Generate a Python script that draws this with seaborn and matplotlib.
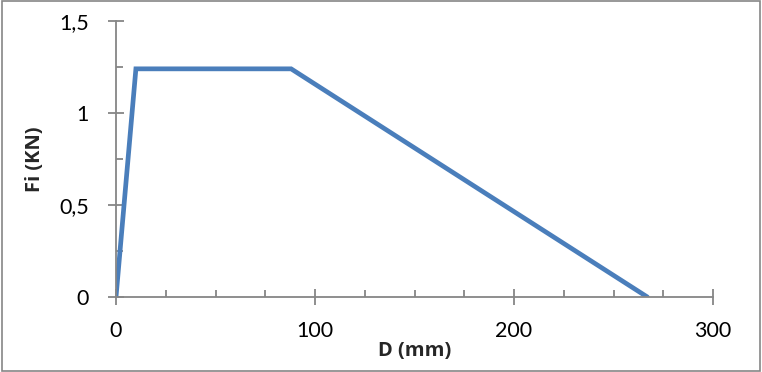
import matplotlib
matplotlib.use('Agg')
import matplotlib.pyplot as plt
import seaborn as sns
import pandas as pd
from matplotlib.ticker import MultipleLocator, FuncFormatter
from matplotlib.patches import Rectangle

# dados
d_mm = [0, 10, 88, 267]
fi_kn = [0, 1.24, 1.24, 0]

df = pd.DataFrame({'D': d_mm, 'Fi': fi_kn})

sns.set_theme(style='white')
plt.rcParams['font.family'] = ['Lato', 'DejaVu Sans']

fig = plt.figure(figsize=(7.62, 3.72), dpi=100)
ax = fig.add_axes([116 / 762, 1 - 297 / 372, 597 / 762, 276 / 372])

sns.lineplot(data=df, x='D', y='Fi', ax=ax, color='#4A7EBB', linewidth=3.4,
             sort=False, solid_joinstyle='miter')

ax.set_xlim(0, 300)
ax.set_ylim(0, 1.5)
ax.xaxis.set_major_locator(MultipleLocator(100))
ax.xaxis.set_minor_locator(MultipleLocator(25))
ax.yaxis.set_major_locator(MultipleLocator(0.5))
ax.yaxis.set_minor_locator(MultipleLocator(0.25))
ax.yaxis.set_major_formatter(FuncFormatter(lambda v, p: f'{v:g}'.replace('.', ',')))

grey = '#868686'
for s in ['top', 'right']:
    ax.spines[s].set_visible(False)
for s in ['left', 'bottom']:
    ax.spines[s].set_color(grey)
    ax.spines[s].set_linewidth(1.3)

ax.tick_params(which='major', direction='inout', length=11, width=1.3, color=grey,
               labelsize=15.5, labelcolor='black', left=True, bottom=True)
ax.tick_params(which='minor', direction='in', length=5, width=1.3, color=grey,
               left=True, bottom=True)
ax.tick_params(axis='x', which='major', pad=12)
ax.tick_params(axis='y', which='major', pad=14)

# rótulos em negrito (Lato instalado sem negrito)
ax.set_xlabel('D (mm)', fontsize=14.5, fontweight='bold', family='Open Sans', labelpad=0)
ax.set_ylabel('Fi (KN)', fontsize=14.5, fontweight='bold', family='Open Sans', labelpad=10)

# moldura cinza da figura
fig.patches.append(Rectangle((0.003, 0.003), 0.994, 0.994, transform=fig.transFigure,
                             fill=False, edgecolor=grey, linewidth=1.2))

plt.savefig('out.png', dpi=100)
plt.close()
